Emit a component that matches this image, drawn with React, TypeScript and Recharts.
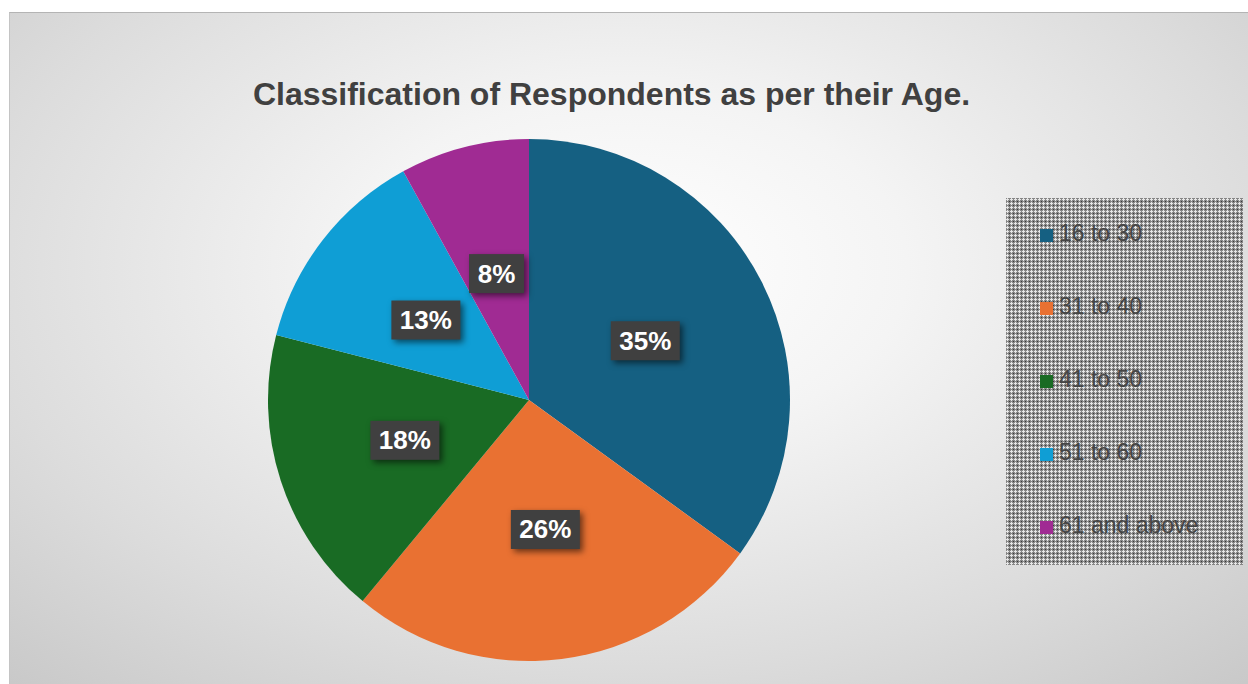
import { PieChart, Pie, Cell, Legend } from 'recharts'

const ageGroups = ['16 to 30', '31 to 40', '41 to 50', '51 to 60', '61 and above']
const shares = [35, 26, 18, 13, 8]
const sliceColors = ['#156082', '#E97132', '#196B24', '#0F9ED5', '#A02B93']

const pieData = ageGroups.map((name, i) => ({ name, value: shares[i] }))

const RAD = Math.PI / 180

const patternSvg =
  "url(\"data:image/svg+xml;utf8,<svg xmlns='http://www.w3.org/2000/svg' width='4' height='4'>" +
  "<rect width='4' height='4' fill='%23868686'/>" +
  "<rect x='1' y='0' width='1' height='3' fill='%23e6e6e6'/>" +
  "<rect x='0' y='1' width='3' height='1' fill='%23e6e6e6'/>" +
  "<rect x='3' y='3' width='1' height='1' fill='%23383838'/></svg>\")"

// dark box label in the middle of each slice
function renderLabel(props: any) {
  const { cx, cy, midAngle, outerRadius, percent } = props
  const r = outerRadius * 0.5
  const x = cx + r * Math.cos(-midAngle * RAD)
  const y = cy + r * Math.sin(-midAngle * RAD)
  const text = `${Math.round(percent * 100)}%`
  const w = text.length === 2 ? 55 : 69
  const h = 39
  return (
    <g>
      <rect
        x={x - w / 2}
        y={y - h / 2}
        width={w}
        height={h}
        fill="#404040"
        style={{ filter: 'drop-shadow(3px 3px 3px rgba(0,0,0,0.55))' }}
      />
      <text
        x={x}
        y={y + 9}
        textAnchor="middle"
        fill="#ffffff"
        fontFamily="Liberation Sans, Arial, sans-serif"
        fontWeight="bold"
        fontSize={26}
      >
        {text}
      </text>
    </g>
  )
}

function LegendBox(props: any) {
  const items = props.payload || []
  return (
    <div
      style={{
        position: 'relative',
        width: 237,
        height: 367,
        backgroundImage: patternSvg,
        backgroundSize: '4px 4px',
      }}
    >
      {items.map((item: any, i: number) => (
        <div key={item.value} style={{ position: 'absolute', left: 34, top: 31 + i * 73, height: 20 }}>
          <div style={{ position: 'absolute', left: 0, top: 0, width: 13, height: 13, background: item.color }} />
          <div
            style={{
              position: 'absolute',
              left: 19,
              top: -9,
              whiteSpace: 'nowrap',
              fontFamily: 'Liberation Sans, Arial, sans-serif',
              fontSize: 23,
              color: '#454545',
              lineHeight: '26px',
            }}
          >
            {item.value}
          </div>
        </div>
      ))}
    </div>
  )
}

export default function App() {
  return (
    <div
      style={{
        position: 'absolute',
        left: 9,
        top: 12,
        width: 1239,
        height: 672,
        boxSizing: 'border-box',
        borderTop: '1px solid #b4b4b4',
        borderLeft: '1px solid #c4c4c4',
        background:
          'radial-gradient(ellipse 75% 85% at 50% 38%, #ffffff 0%, #f4f4f4 30%, #dcdcdc 70%, #c8c8c8 100%)',
        overflow: 'hidden',
      }}
    >
      <div
        style={{
          position: 'absolute',
          left: 0,
          width: 1203,
          top: 63,
          textAlign: 'center',
          fontFamily: 'Liberation Sans, Arial, sans-serif',
          fontWeight: 'bold',
          fontSize: 32,
          color: '#404040',
          whiteSpace: 'nowrap',
          lineHeight: '37px',
        }}
      >
        Classification of Respondents as per their Age.
      </div>
      <PieChart width={1238} height={671} margin={{ top: 0, right: 0, bottom: 0, left: 0 }} style={{ position: 'absolute', left: 0, top: 0 }}>
        <Pie
          data={pieData}
          dataKey="value"
          nameKey="name"
          cx={519}
          cy={387}
          outerRadius={261}
          startAngle={90}
          endAngle={-270}
          stroke="none"
          labelLine={false}
          label={renderLabel}
          isAnimationActive={false}
        >
          {pieData.map((d, i) => (
            <Cell key={d.name} fill={sliceColors[i]} />
          ))}
        </Pie>
        <Legend
          layout="vertical"
          align="right"
          verticalAlign="top"
          content={<LegendBox />}
          wrapperStyle={{ left: 996, top: 185, width: 237, height: 367 }}
        />
      </PieChart>
    </div>
  )
}
